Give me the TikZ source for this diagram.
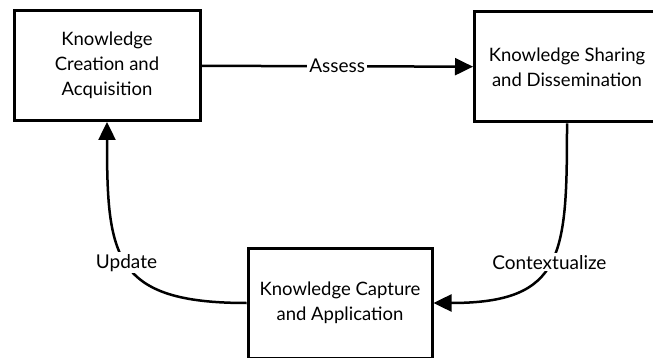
\documentclass[tikz,border=0pt]{standalone}
\usepackage{fontspec}
\setmainfont{Lato}
\usetikzlibrary{arrows.meta,positioning}
\tikzset{>={Triangle[length=18pt,width=17pt]},auto}
\tikzset{stage/.style={draw,line width=3pt,minimum width=186pt,minimum height=110pt,align=center,font=\fontsize{18.5}{25}\selectfont}}
\tikzset{lbl/.style={fill=white,inner sep=2pt,font=\fontsize{19}{22}\selectfont}}

\begin{document}
\begin{tikzpicture}[x=1pt,y=1pt]
                        \useasboundingbox (0,0) rectangle (653,-358);
                        \node[stage] (create) at (107,-65.5) {Knowledge\\Creation and\\Acquisition};
                        \node[stage,minimum width=185pt] (share) at (567,-67) {Knowledge Sharing\\and Dissemination};
                        \node[stage,minimum width=184pt] (capture) at (340,-303) {Knowledge Capture\\and Application};
                        \path[->,line width=2.5pt]
                            (create)  edge  node[lbl,swap,midway,anchor=center] {Assess} (share)
                            (share.south)  edge[out=-90,in=0,looseness=1.5]  node[lbl,anchor=center] {Contextualize} (capture.east)
                            (capture.west)  edge[out=180,in=-90,looseness=1.5]  node[lbl,anchor=center] {Update} (create.south);
                    \end{tikzpicture}
\end{document}
